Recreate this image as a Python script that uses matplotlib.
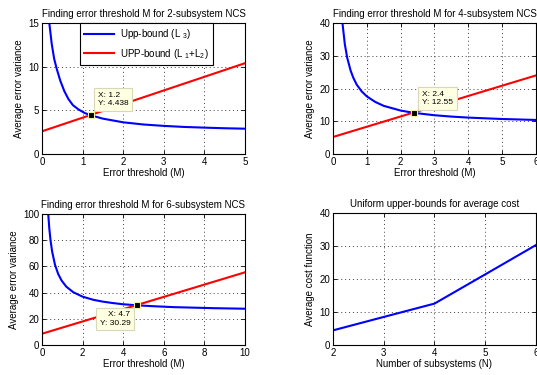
import numpy as np
import matplotlib
matplotlib.use("Agg")
import matplotlib.pyplot as plt

plt.rcParams['font.family'] = ['Liberation Sans', 'DejaVu Sans']
plt.rcParams['font.size'] = 7
plt.rcParams['mathtext.fontset'] = 'custom'
plt.rcParams['mathtext.rm'] = 'Liberation Sans'
plt.rcParams['mathtext.it'] = 'Liberation Sans'

# 2-subsystem
m2_blue = [0.18, 0.24, 0.30, 0.36, 0.45, 0.55, 0.65, 0.76, 0.90, 1.05, 1.2, 1.5, 2.0, 2.5, 3.0, 3.5, 4.0, 4.5, 5.0]
l3_2 = [15.0, 12.6, 10.9, 9.8, 8.4, 7.2, 6.3, 5.6, 5.1, 4.7, 4.438, 4.05, 3.63, 3.38, 3.22, 3.1, 3.02, 2.95, 2.9]
m2_red = [0, 5]
l12_2 = [2.6, 10.4]

# 4-subsystem
m4_blue = [0.28, 0.35, 0.42, 0.52, 0.60, 0.70, 0.85, 1.0, 1.25, 1.5, 2.0, 2.4, 3.0, 3.5, 4.0, 5.0, 6.0]
l3_4 = [40.0, 33.5, 29.4, 25.5, 23.3, 21.2, 19.1, 17.6, 15.9, 14.7, 13.27, 12.55, 11.84, 11.43, 11.12, 10.69, 10.4]
m4_red = [0, 6]
l12_4 = [5.2, 24.0]

# 6-subsystem
m6_blue = [0.31, 0.36, 0.42, 0.50, 0.64, 0.80, 0.97, 1.2, 1.54, 2.0, 2.53, 3.0, 3.5, 4.0, 4.7, 5.5, 6.5, 7.5, 8.5, 10.0]
l3_6 = [99.5, 89.0, 80.0, 71.3, 61.3, 54.1, 49.1, 44.5, 40.3, 36.9, 34.5, 33.1, 32.0, 31.1, 30.29, 29.6, 28.9, 28.5, 28.1, 27.7]
m6_red = [0, 10]
l12_6 = [8.6, 55.5]

# thresholds found
tip_x = [1.2, 2.4, 4.7]
tip_y = [4.438, 12.55, 30.29]

# uniform upper bounds
n_sub = [2, 3, 4, 5, 6]
avg_cost = [4.438, 8.5, 12.55, 21.4, 30.29]

fig = plt.figure(figsize=(5.37, 3.75), dpi=100)

w, h = 0.378, 0.3493
pos = [[0.0782, 0.5893, w, h],
       [0.6201, 0.5893, w, h],
       [0.0782, 0.08, w, h],
       [0.6201, 0.08, w, 0.352]]


def style(ax):
    ax.grid(True, linestyle=(0, (1, 3)), color='#404040', linewidth=0.7)
    ax.tick_params(direction='in', top=True, right=True, length=3, width=0.6, labelsize=7, pad=2)
    for s in ax.spines.values():
        s.set_linewidth(0.8)


def datatip(ax, x, y, off, ha, va):
    ax.plot([x], [y], 's', color='k', markersize=5, markeredgecolor='#f5f0a0', markeredgewidth=0.8, zorder=5)
    ax.annotate("X: %g\nY: %g" % (x, y), (x, y), xytext=off, textcoords='offset pixels',
                ha=ha, va=va, fontsize=6, linespacing=1.25, zorder=6,
                bbox=dict(boxstyle='square,pad=0.45', facecolor='#ffffe1', edgecolor='#d8d8b8', linewidth=0.8))


blue = '#0000ff'
red = '#ff0000'

# 1
ax = fig.add_axes(pos[0])
ax.plot(m2_blue, l3_2, color=blue, lw=1.5, label='Upp-bound (L $_3$)')
ax.plot(m2_red, l12_2, color=red, lw=1.5, label='UPP-bound (L $_1$+L$_2$)')
ax.set_xlim(0, 5)
ax.set_ylim(0, 15)
ax.set_xticks([0, 1, 2, 3, 4, 5])
ax.set_yticks([0, 5, 10, 15])
style(ax)
ax.set_title('Finding error threshold M for 2-subsystem NCS', fontsize=7, pad=4)
ax.set_xlabel('Error threshold (M)', labelpad=1)
ax.set_ylabel('Average error variance', labelpad=3)
leg = ax.legend(loc='upper right', bbox_to_anchor=(0.842, 1.0), fontsize=7, fancybox=False,
                framealpha=1, edgecolor='k', handlelength=3.1, handletextpad=0.6,
                borderpad=0.45, labelspacing=0.55, borderaxespad=0)
leg.get_frame().set_linewidth(0.8)
datatip(ax, tip_x[0], tip_y[0], (7, 8), 'left', 'bottom')

# 2
ax = fig.add_axes(pos[1])
ax.plot(m4_blue, l3_4, color=blue, lw=1.5)
ax.plot(m4_red, l12_4, color=red, lw=1.5)
ax.set_xlim(0, 6)
ax.set_ylim(0, 40)
ax.set_xticks([0, 1, 2, 3, 4, 5, 6])
ax.set_yticks([0, 10, 20, 30, 40])
style(ax)
ax.set_title('Finding error threshold M for 4-subsystem NCS', fontsize=7, pad=4)
ax.set_xlabel('Error threshold (M)', labelpad=1)
ax.set_ylabel('Average error variance', labelpad=3)
datatip(ax, tip_x[1], tip_y[1], (8, 7), 'left', 'bottom')

# 3
ax = fig.add_axes(pos[2])
ax.plot(m6_blue, l3_6, color=blue, lw=1.5)
ax.plot(m6_red, l12_6, color=red, lw=1.5)
ax.set_xlim(0, 10)
ax.set_ylim(0, 100)
ax.set_xticks([0, 2, 4, 6, 8, 10])
ax.set_yticks([0, 20, 40, 60, 80, 100])
style(ax)
ax.set_title('Finding error threshold M for 6-subsystem NCS', fontsize=7, pad=4)
ax.set_xlabel('Error threshold (M)', labelpad=1)
ax.set_ylabel('Average error variance', labelpad=3)
datatip(ax, tip_x[2], tip_y[2], (-7, -6), 'right', 'top')

# 4
ax = fig.add_axes(pos[3])
ax.plot(n_sub, avg_cost, color=blue, lw=1.5)
ax.set_xlim(2, 6)
ax.set_ylim(0, 40)
ax.set_xticks([2, 3, 4, 5, 6])
ax.set_yticks([0, 10, 20, 30, 40])
style(ax)
ax.set_title('Uniform upper-bounds for average cost', fontsize=7, pad=4)
ax.set_xlabel('Number of subsystems (N)', labelpad=1)
ax.set_ylabel('Average cost function', labelpad=3)

fig.savefig('out.png', dpi=100)
